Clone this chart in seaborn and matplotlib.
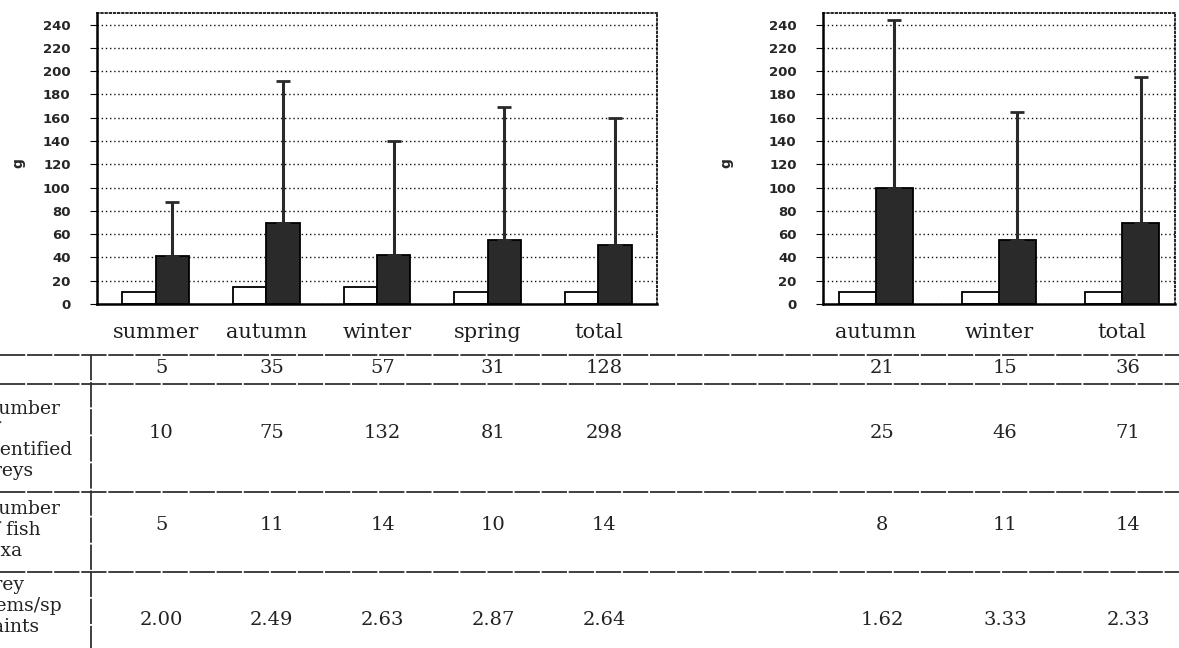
import numpy as np
import pandas as pd
import matplotlib
matplotlib.use("Agg")
import matplotlib.pyplot as plt
import matplotlib.transforms as mtransforms
import seaborn as sns

# left panel
left_seasons = ['summer', 'autumn', 'winter', 'spring', 'total']
left_white = [10, 15, 15, 10, 10]
left_black = [41, 70, 42, 55, 51]
left_black_sd = [47, 122, 98, 114, 109]

# right panel
right_seasons = ['autumn', 'winter', 'total']
right_white = [10, 10, 10]
right_black = [100, 55, 70]
right_black_sd = [144, 110, 125]

# table under the bars
left_n = ['5', '35', '57', '31', '128']
right_n = ['21', '15', '36']
left_preys = ['10', '75', '132', '81', '298']
right_preys = ['25', '46', '71']
left_taxa = ['5', '11', '14', '10', '14']
right_taxa = ['8', '11', '14']
left_ratio = ['2.00', '2.49', '2.63', '2.87', '2.64']
right_ratio = ['1.62', '3.33', '2.33']
row_labels = ['Number\nof\nidentified\npreys', 'Number\nof fish\ntaxa', 'Prey\nitems/sp\npaints']

sns.set_theme(style='white')
plt.rcParams['font.family'] = ['DejaVu Sans']

W, H = 1179, 648
fig = plt.figure(figsize=(W / 100, H / 100), dpi=100)

BLACK = '#2a2a2a'
palette = {'white': 'white', 'black': BLACK}


def make_df(seasons, white, black):
    return pd.DataFrame({
        'season': seasons * 2,
        'kind': ['white'] * len(seasons) + ['black'] * len(seasons),
        'g': list(white) + list(black),
    })


def draw_panel(ax, seasons, white, black, sd, label_x):
    df = make_df(seasons, white, black)
    sns.barplot(data=df, x='season', y='g', hue='kind', hue_order=['white', 'black'],
                palette=palette, width=0.6, dodge=True, edgecolor='black', linewidth=1.3,
                saturation=1, legend=False, ax=ax, errorbar=None)
    bars = ax.containers[1]
    xs = [b.get_x() + b.get_width() / 2 for b in bars]
    ys = [b.get_height() for b in bars]
    ax.errorbar(xs, ys, yerr=[np.zeros(len(sd)), sd], fmt='none', ecolor=BLACK,
                elinewidth=2.2, capsize=5, capthick=2, zorder=5)
    ax.set_ylim(0, 250)
    ax.set_yticks(np.arange(0, 241, 20))
    ax.set_axisbelow(True)
    ax.yaxis.grid(True, linestyle=(0, (1, 2)), color='#111111', linewidth=1)
    ax.set_xlabel('')
    ax.set_ylabel('g', fontsize=10, fontweight='bold', labelpad=0)
    ax.yaxis.set_label_coords(label_x, 0.485)
    ax.tick_params(axis='y', length=5, width=0.8, color='black', pad=14,
                   labelsize=9.5, direction='out', left=True)
    for t in ax.get_yticklabels():
        t.set_fontweight('bold')
    ax.tick_params(axis='x', length=0, pad=14, labelsize=15)
    for t in ax.get_xticklabels():
        t.set_family('DejaVu Serif')
        t.set_color('#1e1e1e')
    for side in ['top', 'right']:
        ax.spines[side].set_linestyle((0, (1, 1.5)))
        ax.spines[side].set_linewidth(1.2)
        ax.spines[side].set_color('black')
    for side in ['left', 'bottom']:
        ax.spines[side].set_linewidth(1.8)
        ax.spines[side].set_color('black')


ax1 = fig.add_axes([97 / W, 1 - 304 / H, 560 / W, 291 / H])
draw_panel(ax1, left_seasons, left_white, left_black, left_black_sd, -0.128)

ax2 = fig.add_axes([823 / W, 1 - 304 / H, 352 / W, 291 / H])
draw_panel(ax2, right_seasons, right_white, right_black, right_black_sd, -0.255)

# table layer in pixel coordinates
tab = fig.add_axes([0, 0, 1, 1], zorder=-1)
tab.set_xlim(0, W)
tab.set_ylim(H, 0)
tab.axis('off')

line_kw = dict(color='#303030', linewidth=1.3, linestyle=(0, (14, 1)))
for yy in [355, 384, 492, 572]:
    tab.plot([0, W], [yy, yy], **line_kw)
tab.plot([91, 91], [355, H], **line_kw)

row_y = [368, 433, 525, 620]
rows_left = [left_n, left_preys, left_taxa, left_ratio]
rows_right = [right_n, right_preys, right_taxa, right_ratio]
txt_kw = dict(ha='center', va='center', fontsize=14, family='DejaVu Serif', color='#222222')
for ax, rows in [(ax1, rows_left), (ax2, rows_right)]:
    trans = mtransforms.blended_transform_factory(ax.transData, tab.transData)
    for yy, vals in zip(row_y, rows):
        for i, v in enumerate(vals):
            tab.text(i + 0.05, yy, v, transform=trans, **txt_kw)

for yy, lab in zip([440, 530, 606], row_labels):
    tab.text(-18, yy, lab, ha='left', va='center', fontsize=13.5, family='DejaVu Serif',
             color='#222222', linespacing=1.2)

fig.savefig('out.png', dpi=100)
